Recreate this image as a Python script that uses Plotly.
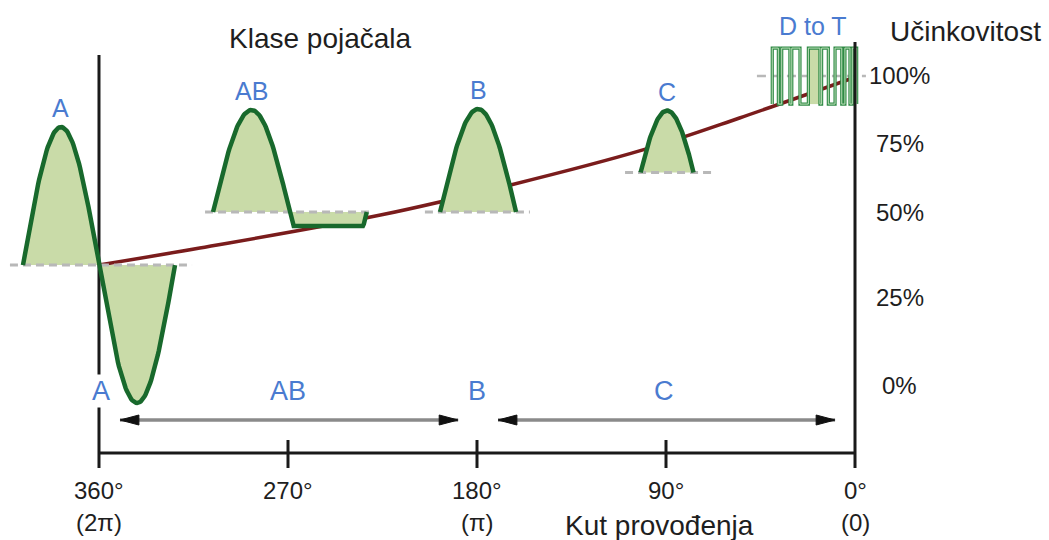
import numpy as np
import plotly.graph_objects as go

# ---------------- data ----------------
angle_ticks = [360, 270, 180, 90, 0]
angle_labels = ["360°", "270°", "180°", "90°", "0°"]
angle_radians = ["(2π)", "", "(π)", "", "(0)"]

eff_ticks = [0, 25, 50, 75, 100]
eff_labels = ["0%", "25%", "50%", "75%", "100%"]

# efficiency vs conduction angle
curve_angle = [360, 312, 226, 164, 101, 55, 1]
curve_eff = [34.4, 39.4, 49.1, 59.8, 72.5, 84.2, 98.9]

class_names = ["A", "AB", "B", "C"]
class_axis_angle = [359, 270, 180, 91]
class_ranges = {"AB": (350, 189), "C": (170, 9.5)}

# icon waveforms: efficiency level of baseline, peak angle, half-lobe width (deg),
# amplitude, half conduction angle of the drawn lobe (deg)
icon_A = dict(eff=34.4, center=360, half=36.2, amp=138)
icon_AB = dict(eff=50, center=287.4, half=18.3, amp=102, clip=14)
icon_B = dict(eff=50, center=179.5, half=18.1, amp=103, phi=90)
icon_C = dict(eff=64.3, center=89.5, half=12.6, amp=62, phi=65)
# D to T: PWM high pulses (start angle, end angle)
dt_pulses = [(39.4, 36.5), (34.9, 31.0), (30.1, 26.2), (22.2, 16.7), (15.9, 12.7),
             (9.5, 6.3), (4.8, 2.4), (1.3, -0.8)]
dt_filled = [3]
dt_eff = 99.6
dt_swing = 28

# ---------------- styling ----------------
FONT = "Liberation Sans, Arial, sans-serif"
GREEN = "#18692c"
FILL = "#c9dba8"
DASH = "#b8b8b8"
RED = "#7a1c1c"
BLUE = "#4a7bd0"
INK = "#1e1e1e"
AXIS = "#1a1a1a"

eff_y = [155, 243, 328, 397, 465]  # vertical placement of the efficiency scale


def eff_to_y(e):
    return np.interp(e, eff_ticks, eff_y)


fig = go.Figure()


def line(x, y, color, width, dash=None, shape="linear"):
    fig.add_trace(go.Scatter(x=list(x), y=list(y), mode="lines",
                             line=dict(color=color, width=width, dash=dash, shape=shape),
                             hoverinfo="skip", showlegend=False))


def area(x, y, color):
    fig.add_trace(go.Scatter(x=list(x), y=list(y), mode="lines", fill="toself",
                             fillcolor=color, line=dict(width=0),
                             hoverinfo="skip", showlegend=False))


# efficiency curve
line(curve_angle, eff_to_y(curve_eff), RED, 3.5, shape="spline")

waves = []
# class A: full sine
t = np.linspace(1, -1, 161)
base = eff_to_y(icon_A["eff"])
xa = icon_A["center"] + icon_A["half"] * t
ya = base + icon_A["amp"] * np.sin(np.pi * t)
waves.append((xa, ya, base, (402.4, 315.7)))

# class AB: positive lobe + clipped negative lobe
base = eff_to_y(icon_AB["eff"])
t = np.linspace(1, -1, 81)
x1 = icon_AB["center"] + icon_AB["half"] * t
y1 = base + icon_AB["amp"] * np.cos(np.pi * t / 2)
c2 = icon_AB["center"] - 2 * icon_AB["half"]
x2 = c2 + icon_AB["half"] * t
y2 = base - np.minimum(icon_AB["amp"] * np.cos(np.pi * t / 2), icon_AB["clip"])
xab = np.concatenate([x1, x2[1:]])
yab = np.concatenate([y1, y2[1:]])
waves.append((xab, yab, base, (309.5, 231.0)))

# class B and C
for ic, rng in ((icon_B, (204.8, 154.8)), (icon_C, (109.5, 67.6))):
    base = eff_to_y(ic["eff"])
    phi = np.radians(ic["phi"])
    xs = ic["center"] + ic["half"] * t
    ys = base + ic["amp"] * (np.cos(phi * t) - np.cos(phi)) / (1 - np.cos(phi))
    waves.append((xs, ys, base, rng))

for xs, ys, base, rng in waves:
    area(xs, ys, FILL)
for xs, ys, base, rng in waves:
    line(rng, [base, base], DASH, 3, dash="8px,5px")

# D to T pulses
dt_base = eff_to_y(dt_eff)
lo, hi = dt_base - dt_swing, dt_base + dt_swing
line((46.7, -5.2), [dt_base, dt_base], DASH, 2.5, dash="9px,6px")
for i in dt_filled:
    a, b = dt_pulses[i]
    area([a, b, b, a, a], [lo, lo, hi, hi, lo], FILL)
px, py = [], []
for a, b in dt_pulses:
    px += [a, a, b, b]
    py += [lo, hi, hi, lo]
line(px, py, "#2f8a45", 3.2)
line(px, py, "#bfe0bb", 1.0)

# axes
axis_y = 87
line((360, 360), (72, 485), AXIS, 3)
line((0, 0), (72, 498), AXIS, 3)
line((360, 0), (axis_y, axis_y), AXIS, 3)
for a in angle_ticks[1:-1]:
    line((a, a), (72, 100), AXIS, 3)

# green outlines on top
for xs, ys, base, rng in waves:
    line(xs, ys, GREEN, 4.5)

# range arrows
arrow_y = 120
head_len, head_h = 9, 5
for key, (a, b) in class_ranges.items():
    line((a, b), (arrow_y, arrow_y), "#8a8a8a", 3.5)
    for tip, d in ((a, -1), (b, 1)):
        fig.add_trace(go.Scatter(x=[tip, tip + d * head_len, tip + d * head_len, tip],
                                 y=[arrow_y, arrow_y + head_h, arrow_y - head_h, arrow_y],
                                 mode="lines", fill="toself", fillcolor="#111111",
                                 line=dict(color="#111111", width=1),
                                 hoverinfo="skip", showlegend=False))

ann = []


def text(x, y, s, size, color=INK, **kw):
    ann.append(dict(x=x, y=y, xref="x", yref="y", text=s, showarrow=False,
                    font=dict(family=FONT, size=size, color=color),
                    xanchor="center", yanchor="middle", **kw))


for a, lab, rad in zip(angle_ticks, angle_labels, angle_radians):
    text(a, 50, lab, 24)
    if rad:
        text(a, 18, rad, 24)

for e, lab, yy in zip(eff_ticks, eff_labels, eff_y):
    text(-21.4, yy, lab, 24)

for name, a in zip(class_names, class_axis_angle):
    kw = dict(bgcolor="white") if name == "A" else {}
    text(a, 149, name, 27, BLUE, **kw)

# icon labels above each waveform
peaks = [(icon_A["center"] + icon_A["half"] / 2, eff_to_y(icon_A["eff"]) + icon_A["amp"], "A"),
         (icon_AB["center"], eff_to_y(icon_AB["eff"]) + icon_AB["amp"], "AB"),
         (icon_B["center"], eff_to_y(icon_B["eff"]) + icon_B["amp"], "B"),
         (icon_C["center"], eff_to_y(icon_C["eff"]) + icon_C["amp"], "C"),
         (20, dt_base + dt_swing + 3, "D to T")]
for a, pk, name in peaks:
    text(a, pk + 19, name, 25, BLUE)

text(254.3, 502, "Klase pojačala", 28)
text(-52.4, 509, "Učinkovitost", 28)
text(93.3, 15, "Kut provođenja", 28)

fig.update_layout(
    width=1049, height=540,
    margin=dict(l=0, r=0, t=0, b=0),
    paper_bgcolor="white", plot_bgcolor="white",
    xaxis=dict(range=[407.14, -92.38], visible=False, fixedrange=True),
    yaxis=dict(range=[0, 540], visible=False, fixedrange=True),
    annotations=ann,
    showlegend=False,
)

fig.write_html("out.html", config={"displayModeBar": False},
               post_script="document.body.style.margin='0';document.body.style.overflow='hidden';")
